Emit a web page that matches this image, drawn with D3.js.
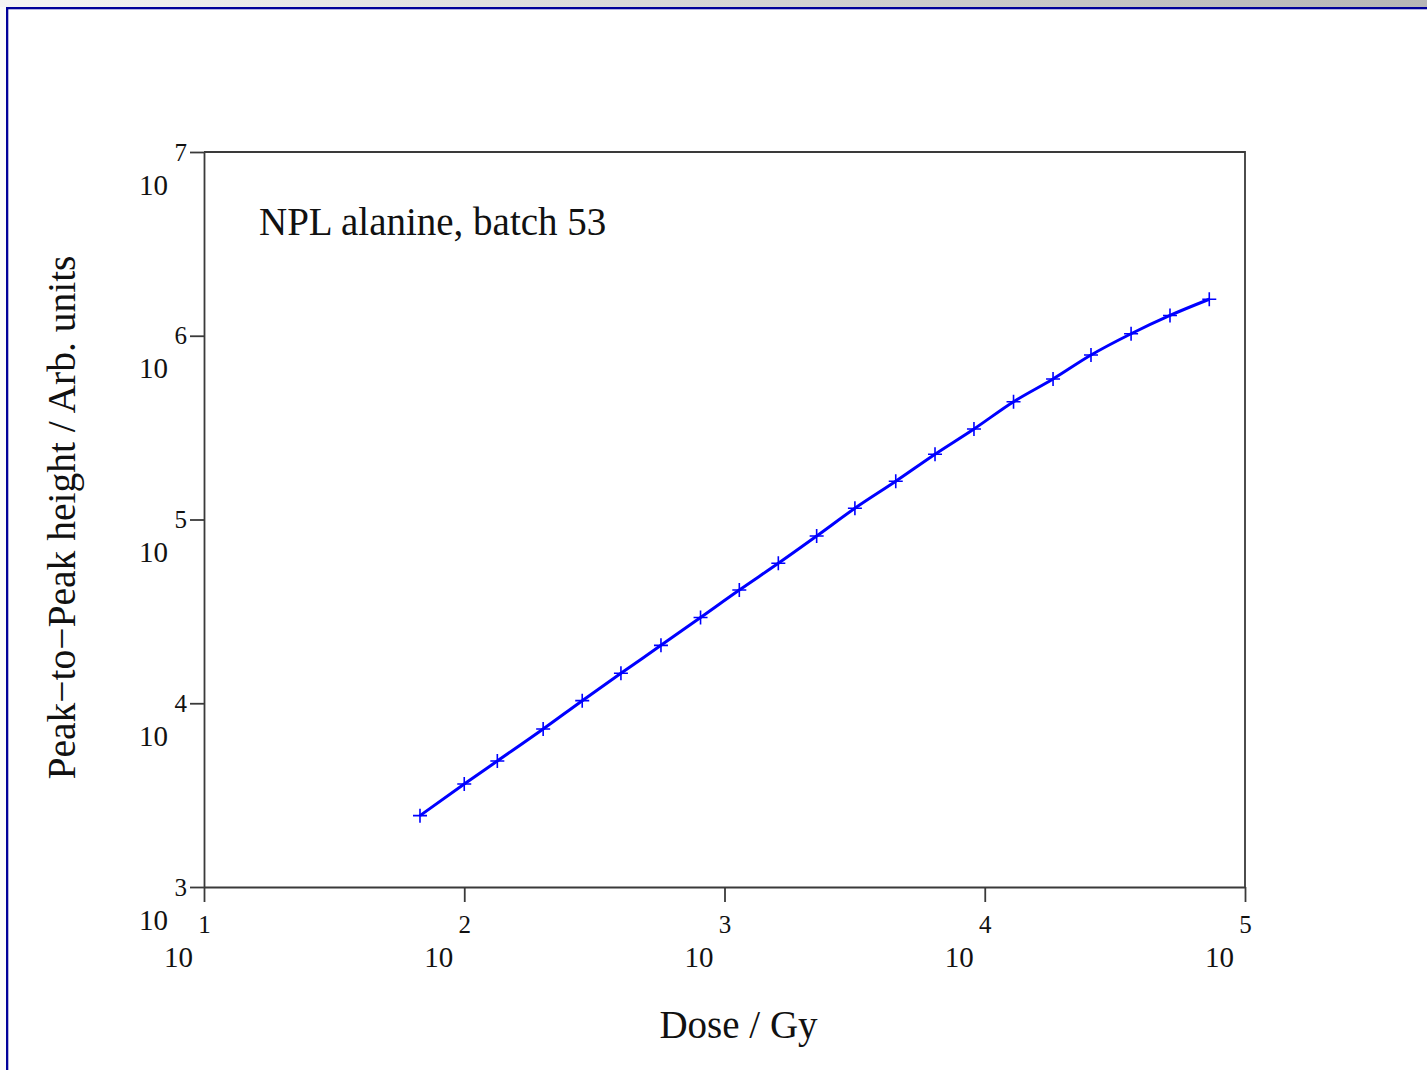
<!DOCTYPE html>
<html>
<head>
<meta charset="utf-8">
<script src="https://cdn.jsdelivr.net/npm/d3@7"></script>
<style>
  html, body { margin: 0; padding: 0; background: #fafafa; overflow: hidden; }
  svg { display: block; }
  text { font-family: "Liberation Serif", "Times New Roman", serif; fill: #111; }
</style>
</head>
<body>
<div class="canvas"></div>
<script>
// data (Gy, arbitrary units)
const dose = [67.6, 100, 134, 201, 284, 400, 570, 809, 1140, 1610, 2260,
  3170, 4550, 6440, 9090, 12900, 18300, 25600, 36500, 51500, 72900];
const peakHeight = [2445, 3636, 4851, 7243, 10330, 14560, 20660, 29290, 41330,
  57760, 81280, 115100, 161400, 226400, 310800, 437500, 581800, 785000,
  1025000, 1290000, 1580000];
const xTicks = [1e1, 1e2, 1e3, 1e4, 1e5];
const yTicks = [1e3, 1e4, 1e5, 1e6, 1e7];
const title = 'NPL alanine, batch 53';

const WIDTH = 1427, HEIGHT = 1070;
const PLOT = { left: 204, right: 1245, top: 152, bottom: 887 };
const AXIS_COLOR = '#3a3a3a';

const svg = d3.select('.canvas').append('svg')
  .attr('width', WIDTH)
  .attr('height', HEIGHT);

// page frame
const defs = svg.append('defs');
const grad = defs.append('linearGradient').attr('id', 'topband');
grad.append('stop').attr('offset', '0%').attr('stop-color', '#f4f4f4');
grad.append('stop').attr('offset', '100%').attr('stop-color', '#b6b6b6');

svg.append('rect').attr('x', 0).attr('y', 0).attr('width', WIDTH).attr('height', 7)
  .attr('fill', 'url(#topband)');
svg.append('rect').attr('x', 8).attr('y', 9).attr('width', WIDTH - 8).attr('height', HEIGHT - 9)
  .attr('fill', '#ffffff');
svg.append('rect').attr('x', 6).attr('y', 7).attr('width', WIDTH - 6).attr('height', 2.3)
  .attr('fill', '#000099');
svg.append('rect').attr('x', 6).attr('y', 7).attr('width', 2.3).attr('height', HEIGHT - 7)
  .attr('fill', '#000099');

//scales
const x = d3.scaleLog().domain([1e1, 1e5]).range([PLOT.left, PLOT.right]);
const y = d3.scaleLog().domain([1e3, 1e7]).range([PLOT.bottom, PLOT.top]);

//axes
const xAxisGroup = svg.append('g')
  .attr('class', 'x-axis')
  .attr('transform', `translate(0, ${PLOT.bottom})`)
  .call(d3.axisBottom(x).tickValues(xTicks).tickSize(15).tickSizeOuter(0).tickFormat(''));

const yAxisGroup = svg.append('g')
  .attr('class', 'y-axis')
  .attr('transform', `translate(${PLOT.left}, 0)`)
  .call(d3.axisLeft(y).tickValues(yTicks).tickSize(14).tickSizeOuter(0).tickFormat(''));

[xAxisGroup, yAxisGroup].forEach(g => {
  g.selectAll('path, line').attr('stroke', AXIS_COLOR).attr('stroke-width', 1.8);
  g.selectAll('text').remove();
});

// top and right edges of the box
svg.append('path')
  .attr('d', `M${PLOT.left},${PLOT.top}H${PLOT.right}V${PLOT.bottom}`)
  .attr('fill', 'none')
  .attr('stroke', AXIS_COLOR)
  .attr('stroke-width', 1.8);

// power-of-ten labels: exponent at the tick, base "10" below-left
xAxisGroup.selectAll('.tick').each(function(d) {
  const t = d3.select(this);
  t.append('text').attr('x', 0).attr('y', 46)
    .attr('text-anchor', 'middle').attr('font-size', 25)
    .text(Math.round(Math.log10(d)));
  t.append('text').attr('x', -26).attr('y', 80)
    .attr('text-anchor', 'middle').attr('font-size', 29)
    .text('10');
});

yAxisGroup.selectAll('.tick').each(function(d) {
  const t = d3.select(this);
  t.append('text').attr('x', -17).attr('y', 8)
    .attr('text-anchor', 'end').attr('font-size', 25)
    .text(Math.round(Math.log10(d)));
  t.append('text').attr('x', -36).attr('y', 42)
    .attr('text-anchor', 'end').attr('font-size', 29)
    .text('10');
});

// axis titles
svg.append('text')
  .attr('x', (PLOT.left + PLOT.right) / 2 + 14)
  .attr('y', 1038)
  .attr('text-anchor', 'middle')
  .attr('font-size', 39)
  .text('Dose / Gy');

svg.append('text')
  .attr('transform', `translate(75, ${(PLOT.top + PLOT.bottom) / 2 - 2}) rotate(-90)`)
  .attr('text-anchor', 'middle')
  .attr('font-size', 39.5)
  .text('Peak\u2212to\u2212Peak height / Arb. units');

svg.append('text')
  .attr('x', 259)
  .attr('y', 235)
  .attr('font-size', 39)
  .text(title);

// data line
const data = dose.map((d, i) => ({ dose: d, height: peakHeight[i] }));

const line = d3.line()
  .x(d => x(d.dose))
  .y(d => y(d.height))
  .curve(d3.curveMonotoneX);

svg.append('path')
  .datum(data)
  .attr('d', line)
  .attr('fill', 'none')
  .attr('stroke', '#0000ff')
  .attr('stroke-width', 3);

// plus markers
const markers = svg.append('g').attr('class', 'markers');
const m = 7;
markers.selectAll('path')
  .data(data)
  .enter().append('path')
  .attr('d', d => {
    const cx = x(d.dose), cy = y(d.height);
    return `M${cx - m},${cy}H${cx + m}M${cx},${cy - m}V${cy + m}`;
  })
  .attr('stroke', '#0000ff')
  .attr('stroke-width', 1.6)
  .attr('fill', 'none');
</script>
</body>
</html>
